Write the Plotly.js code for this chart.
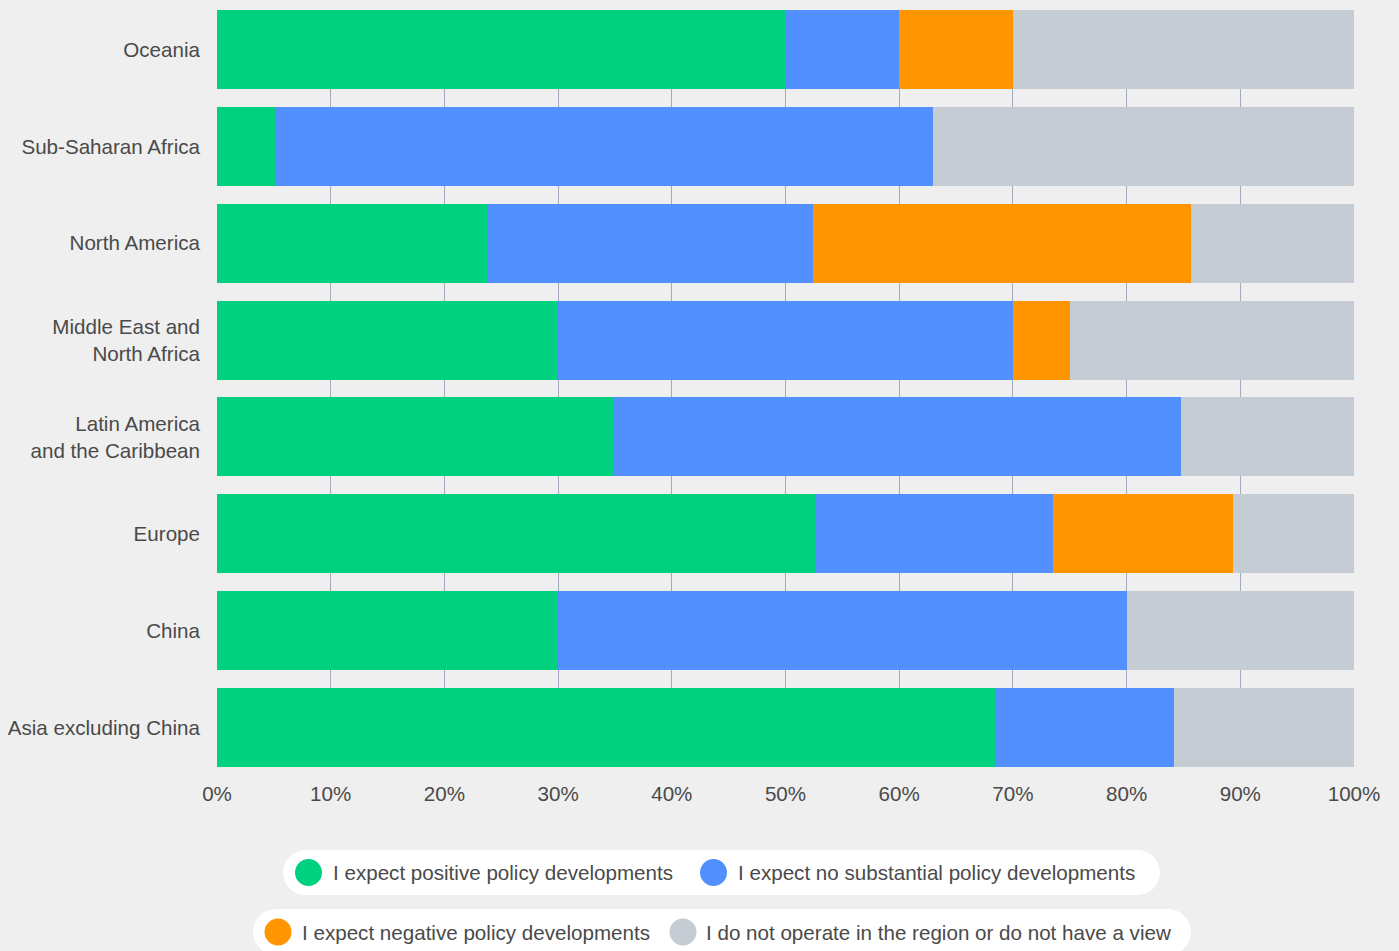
<!DOCTYPE html>
<html>
<head>
<meta charset="utf-8">
<script src="https://cdn.plot.ly/plotly-3.0.1.min.js"></script>
<style>
  html, body { margin: 0; padding: 0; background: #EFEFEF; }
  #chart { width: 1399px; height: 951px; }
</style>
</head>
<body>
<div id="chart"></div>
<script>
// ---- data ----
const regions = [
  "Oceania",
  "Sub-Saharan Africa",
  "North America",
  "Middle East and<br>North Africa",
  "Latin America<br>and the Caribbean",
  "Europe",
  "China",
  "Asia excluding China"
];
const seriesNames = [
  "I expect positive policy developments",
  "I expect no substantial policy developments",
  "I expect negative policy developments",
  "I do not operate in the region or do not have a view"
];
const positive    = [50, 5.1, 23.8, 30, 34.8, 52.7, 30, 68.4];
const noChange    = [10, 57.9, 28.6, 40, 50, 20.8, 50, 15.8];
const negative    = [10, 0, 33.3, 5, 0, 15.9, 0, 0];
const noView      = [30, 37, 14.3, 25, 15.2, 10.6, 20, 15.8];
const xTickVals   = [0, 10, 20, 30, 40, 50, 60, 70, 80, 90, 100];
const xTickText   = ["0%", "10%", "20%", "30%", "40%", "50%", "60%", "70%", "80%", "90%", "100%"];

const colors = ["#00D17E", "#5290FF", "#FF9500", "#C5CCD4"];
const seriesValues = [positive, noChange, negative, noView];

const FONT = "Liberation Sans, Arial, Helvetica, sans-serif";
const TEXT_COLOR = "#4a4a4a";
const FS = 20.6;

const traces = seriesValues.map((vals, i) => ({
  type: "bar",
  orientation: "h",
  name: seriesNames[i],
  y: regions,
  x: vals,
  marker: { color: colors[i], line: { width: 0 } },
  hoverinfo: "skip",
  showlegend: false
}));

// ---- plot geometry (pixels) ----
const W = 1399, H = 951;
const L = 217, R = 1354, T = 10, B = 767;
const px = X => (X - L) / (R - L);
const py = Y => (B - Y) / (B - T);

// custom pill legend
const shapes = [];
const annotations = [];
function pill(x0, x1, y0, y1) {
  const r = (y1 - y0) / 2;
  shapes.push({ type: "rect", xref: "paper", yref: "paper", x0: px(x0 + r), x1: px(x1 - r), y0: py(y1), y1: py(y0), fillcolor: "#FFFFFF", line: { width: 0 }, layer: "below" });
  shapes.push({ type: "circle", xref: "paper", yref: "paper", x0: px(x0), x1: px(x0 + 2 * r), y0: py(y1), y1: py(y0), fillcolor: "#FFFFFF", line: { width: 0 }, layer: "below" });
  shapes.push({ type: "circle", xref: "paper", yref: "paper", x0: px(x1 - 2 * r), x1: px(x1), y0: py(y1), y1: py(y0), fillcolor: "#FFFFFF", line: { width: 0 }, layer: "below" });
}
function item(cx, cy, idx, textX) {
  const rr = 13.5;
  shapes.push({ type: "circle", xref: "paper", yref: "paper", x0: px(cx - rr), x1: px(cx + rr), y0: py(cy + rr), y1: py(cy - rr), fillcolor: colors[idx], line: { width: 0 } });
  annotations.push({ xref: "paper", yref: "paper", x: px(textX - 2), y: py(cy), xanchor: "left", yanchor: "middle", showarrow: false, text: seriesNames[idx], font: { family: FONT, size: FS, color: TEXT_COLOR } });
}
pill(283, 1160, 850, 895);
pill(253, 1191, 909, 955);
item(308.5, 872.5, 0, 333);
item(713.5, 872.5, 1, 738);
item(278, 932, 2, 302);
item(683, 932, 3, 706);

const BARGAP = 0.183;
const half = (1 - BARGAP) / 2;

const layout = {
  width: W, height: H,
  barmode: "stack",
  bargap: BARGAP,
  paper_bgcolor: "#EFEFEF",
  plot_bgcolor: "#EFEFEF",
  margin: { l: L, r: W - R, t: T, b: H - B, pad: 0 },
  showlegend: false,
  font: { family: FONT, size: FS, color: TEXT_COLOR },
  xaxis: {
    range: [0, 100],
    tickvals: xTickVals,
    ticktext: xTickText,
    showgrid: true,
    gridcolor: "#A3AABA",
    gridwidth: 1,
    zeroline: false,
    showline: false,
    ticks: "",
    ticklabelstandoff: 12,
    tickfont: { family: FONT, size: FS, color: TEXT_COLOR },
    fixedrange: true
  },
  yaxis: {
    range: [regions.length - 1 + half, -half],
    showgrid: false,
    zeroline: false,
    showline: false,
    ticks: "",
    ticklabelstandoff: 16,
    tickfont: { family: FONT, size: FS, color: TEXT_COLOR },
    fixedrange: true
  },
  shapes: shapes,
  annotations: annotations
};

Plotly.newPlot("chart", traces, layout, { displayModeBar: false, staticPlot: true });
</script>
</body>
</html>
